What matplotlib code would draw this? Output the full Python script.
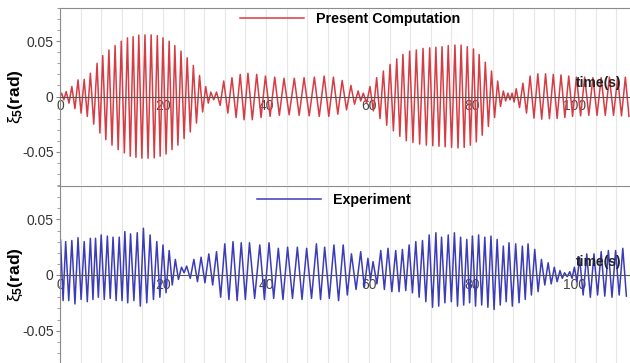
import matplotlib
matplotlib.use("Agg")
import matplotlib.pyplot as plt
from matplotlib.ticker import MultipleLocator
import numpy as np

plt.rcParams['font.family'] = ['Liberation Sans', 'DejaVu Sans']
plt.rcParams['mathtext.fontset'] = 'custom'
plt.rcParams['mathtext.rm'] = 'Liberation Sans'
plt.rcParams['mathtext.it'] = 'Liberation Sans'
plt.rcParams['mathtext.bf'] = 'Liberation Sans:bold'

# pitch response: time of each crest, crest value,
# value of the trough that follows it
comp_peak_t = [0.3, 1.2, 2.3, 3.5, 4.7, 5.9, 7.2, 8.3, 9.5, 10.7, 11.9, 13.1, 14.2,
               15.3, 16.5, 17.7, 18.9, 20.0, 21.2, 22.3, 23.5, 24.7, 25.9, 27.1,
               28.3, 29.3, 30.4, 31.8, 33.4, 35.0, 36.5, 38.2, 39.9, 41.7, 43.5,
               45.5, 47.4, 49.4, 51.3, 53.1, 54.8, 56.5, 57.9, 58.9, 60.2, 61.5,
               62.8, 64.1, 65.4, 66.6, 67.9, 69.2, 70.5, 71.8, 73.0, 74.2, 75.4,
               76.7, 77.9, 79.1, 80.3, 81.4, 82.6, 83.8, 85.0, 86.1, 87.0, 87.8,
               88.6, 89.9, 91.3, 92.8, 94.3, 95.8, 97.3, 98.8, 100.3, 101.9, 103.5,
               105.1, 106.7, 108.3, 109.8]
comp_peak = [0.003, 0.0045, 0.009, 0.015, 0.0155, 0.021, 0.030, 0.037, 0.042, 0.046,
             0.050, 0.053, 0.054, 0.0555, 0.0557, 0.0557, 0.055, 0.053, 0.050, 0.046,
             0.041, 0.035, 0.028, 0.019, 0.009, 0.004, 0.004, 0.014, 0.017, 0.020,
             0.021, 0.020, 0.0185, 0.0175, 0.0165, 0.0165, 0.017, 0.0175, 0.0185,
             0.0175, 0.0145, 0.010, 0.005, 0.003, 0.009, 0.017, 0.023, 0.029, 0.034,
             0.038, 0.041, 0.042, 0.0435, 0.044, 0.0445, 0.045, 0.046, 0.0465, 0.0465,
             0.045, 0.043, 0.038, 0.031, 0.023, 0.014, 0.005, 0.003, 0.003, 0.007,
             0.012, 0.0185, 0.0205, 0.0205, 0.020, 0.0195, 0.0185, 0.0175, 0.0175,
             0.017, 0.017, 0.0175, 0.017, 0.0175]
comp_trough = [-0.003, -0.006, -0.011, -0.015, -0.018, -0.025, -0.033, -0.039, -0.044,
               -0.048, -0.051, -0.054, -0.055, -0.0557, -0.0558, -0.0555, -0.054,
               -0.052, -0.048, -0.044, -0.038, -0.032, -0.024, -0.014, -0.006, -0.003,
               -0.008, -0.015, -0.019, -0.021, -0.021, -0.019, -0.018, -0.017, -0.0165,
               -0.017, -0.0175, -0.018, -0.018, -0.016, -0.012, -0.007, -0.004, -0.006,
               -0.013, -0.020, -0.026, -0.031, -0.036, -0.040, -0.0415, -0.043, -0.044,
               -0.0445, -0.045, -0.0455, -0.046, -0.0465, -0.046, -0.044, -0.041,
               -0.035, -0.027, -0.019, -0.009, -0.004, -0.003, -0.005, -0.010, -0.015,
               -0.0195, -0.0205, -0.020, -0.0198, -0.019, -0.018, -0.0175, -0.017,
               -0.017, -0.017, -0.017, -0.0175, -0.018]

exp_peak_t = [0.1, 1.1, 2.3, 3.5, 4.7, 5.9, 6.9, 8.0, 9.2, 10.3, 11.5, 12.6, 13.7,
              15.0, 16.2, 17.5, 18.8, 20.0, 21.2, 22.4, 23.6, 24.6, 26.0, 27.4, 28.9,
              30.4, 32.0, 33.6, 35.2, 36.8, 38.8, 40.6, 42.4, 44.2, 46.1, 47.9, 49.8,
              51.4, 53.2, 55.0, 56.6, 58.4, 59.8, 60.8, 62.3, 63.7, 65.2, 66.5, 67.8,
              69.1, 70.4, 71.7, 73.0, 74.1, 75.4, 76.6, 77.8, 79.0, 80.1, 81.3, 82.5,
              83.7, 84.9, 86.1, 87.2, 88.5, 89.8, 90.9, 92.2, 93.5, 94.8, 96.0, 97.1,
              98.0, 99.0, 99.9, 100.9, 102.3, 103.7, 105.1, 106.5, 107.9, 109.3]
exp_peak = [0.032, 0.030, 0.031, 0.0335, 0.030, 0.033, 0.033, 0.036, 0.035, 0.034,
            0.034, 0.039, 0.037, 0.038, 0.042, 0.036, 0.030, 0.027, 0.022, 0.014,
            0.007, 0.008, 0.014, 0.016, 0.019, 0.021, 0.028, 0.030, 0.029, 0.029,
            0.027, 0.029, 0.024, 0.025, 0.025, 0.024, 0.028, 0.025, 0.027, 0.027,
            0.019, 0.021, 0.015, 0.012, 0.022, 0.024, 0.022, 0.023, 0.027, 0.030,
            0.031, 0.036, 0.038, 0.034, 0.036, 0.038, 0.034, 0.032, 0.035, 0.036,
            0.034, 0.035, 0.032, 0.026, 0.029, 0.028, 0.026, 0.028, 0.023, 0.014,
            0.011, 0.007, 0.004, 0.002, 0.003, 0.007, 0.016, 0.019, 0.019, 0.021,
            0.022, 0.022, 0.024]
exp_trough = [-0.023, -0.023, -0.026, -0.022, -0.024, -0.022, -0.020, -0.022, -0.021,
              -0.023, -0.023, -0.025, -0.023, -0.028, -0.025, -0.022, -0.020, -0.016,
              -0.009, -0.004, 0.002, -0.003, -0.006, -0.007, -0.009, -0.020, -0.022,
              -0.023, -0.022, -0.021, -0.022, -0.021, -0.022, -0.021, -0.022, -0.021,
              -0.022, -0.021, -0.023, -0.018, -0.013, -0.011, -0.0045, -0.008, -0.013,
              -0.015, -0.015, -0.014, -0.016, -0.020, -0.024, -0.029, -0.028, -0.025,
              -0.024, -0.028, -0.027, -0.025, -0.028, -0.027, -0.029, -0.031, -0.027,
              -0.024, -0.028, -0.025, -0.022, -0.018, -0.015, -0.009, -0.008, -0.006,
              -0.003, -0.0015, -0.003, -0.006, -0.018, -0.020, -0.018, -0.019, -0.020,
              -0.018, -0.019]

labels = ['Present Computation', 'Experiment']
colors = ['#d63c44', '#3c3cb8']


def series(peak_t, peak, trough):
    # crest, then trough half-way to the next crest
    pt = np.asarray(peak_t)
    mid = np.append((pt[:-1] + pt[1:]) / 2, pt[-1] + 0.7)
    t = np.empty(2 * len(pt) + 1)
    v = np.empty_like(t)
    t[0], v[0] = 0.0, 0.0
    t[1::2], t[2::2] = pt, mid
    v[1::2], v[2::2] = peak, trough
    return t, v


fig = plt.figure(figsize=(6.3, 3.63), dpi=100)
W, H = 630.0, 363.0
ax_top = fig.add_axes([60 / W, 1 - 185 / H, 570 / W, 177 / H])
ax_bot = fig.add_axes([60 / W, 1 - 364 / H, 570 / W, 178 / H])

data = [(comp_peak_t, comp_peak, comp_trough), (exp_peak_t, exp_peak, exp_trough)]
leg_pos = [(180 / 570, 1 - 11 / 177), (197 / 570, 1 - 14 / 178)]

for ax, d, lab, col, lp in zip([ax_top, ax_bot], data, labels, colors, leg_pos):
    t, v = series(*d)
    ax.plot(t, v, color=col, lw=1.1, label=lab)
    ax.set_xlim(0, 110.7)
    ax.set_ylim(-0.08, 0.08)
    ax.set_yticks([-0.05, 0, 0.05])
    ax.set_yticklabels(['-0.05', '0', '0.05'])
    ax.yaxis.set_minor_locator(MultipleLocator(0.01))
    ax.set_xticks([0, 20, 40, 60, 80, 100])
    ax.xaxis.set_minor_locator(MultipleLocator(4))
    ax.grid(True, which='both', axis='x', color='#e6e6e6', lw=0.8)
    ax.set_axisbelow(True)
    ax.spines['bottom'].set_position(('data', 0))
    ax.spines['bottom'].set_color('#555555')
    ax.spines['right'].set_visible(False)
    ax.spines['top'].set_color('#8c8c8c')
    ax.spines['left'].set_color('#8c8c8c')
    ax.tick_params(axis='x', which='both', length=0, pad=2, labelsize=10,
                   labelcolor='#444444')
    ax.tick_params(axis='y', which='major', direction='out', length=3,
                   color='#8c8c8c', labelsize=10, labelcolor='#333333', pad=1.5)
    ax.tick_params(axis='y', which='minor', direction='out', length=2,
                   color='#8c8c8c')
    ax.set_ylabel(r'$\xi_{\mathbf{5}}$(rad)', fontsize=12.5, fontweight='bold')
    ax.yaxis.set_label_coords(-35 / 570, 0.5)
    ax.text(0.985, 0.575, 'time(s)', transform=ax.transAxes, ha='right',
            va='center', fontsize=10, fontweight='bold', color='#222222')
    ax.legend(loc='center left', bbox_to_anchor=lp, frameon=False,
              borderpad=0, borderaxespad=0, handlelength=4.5,
              handletextpad=0.8, prop={'weight': 'bold', 'size': 10.3})

fig.savefig('out.png', dpi=100)
